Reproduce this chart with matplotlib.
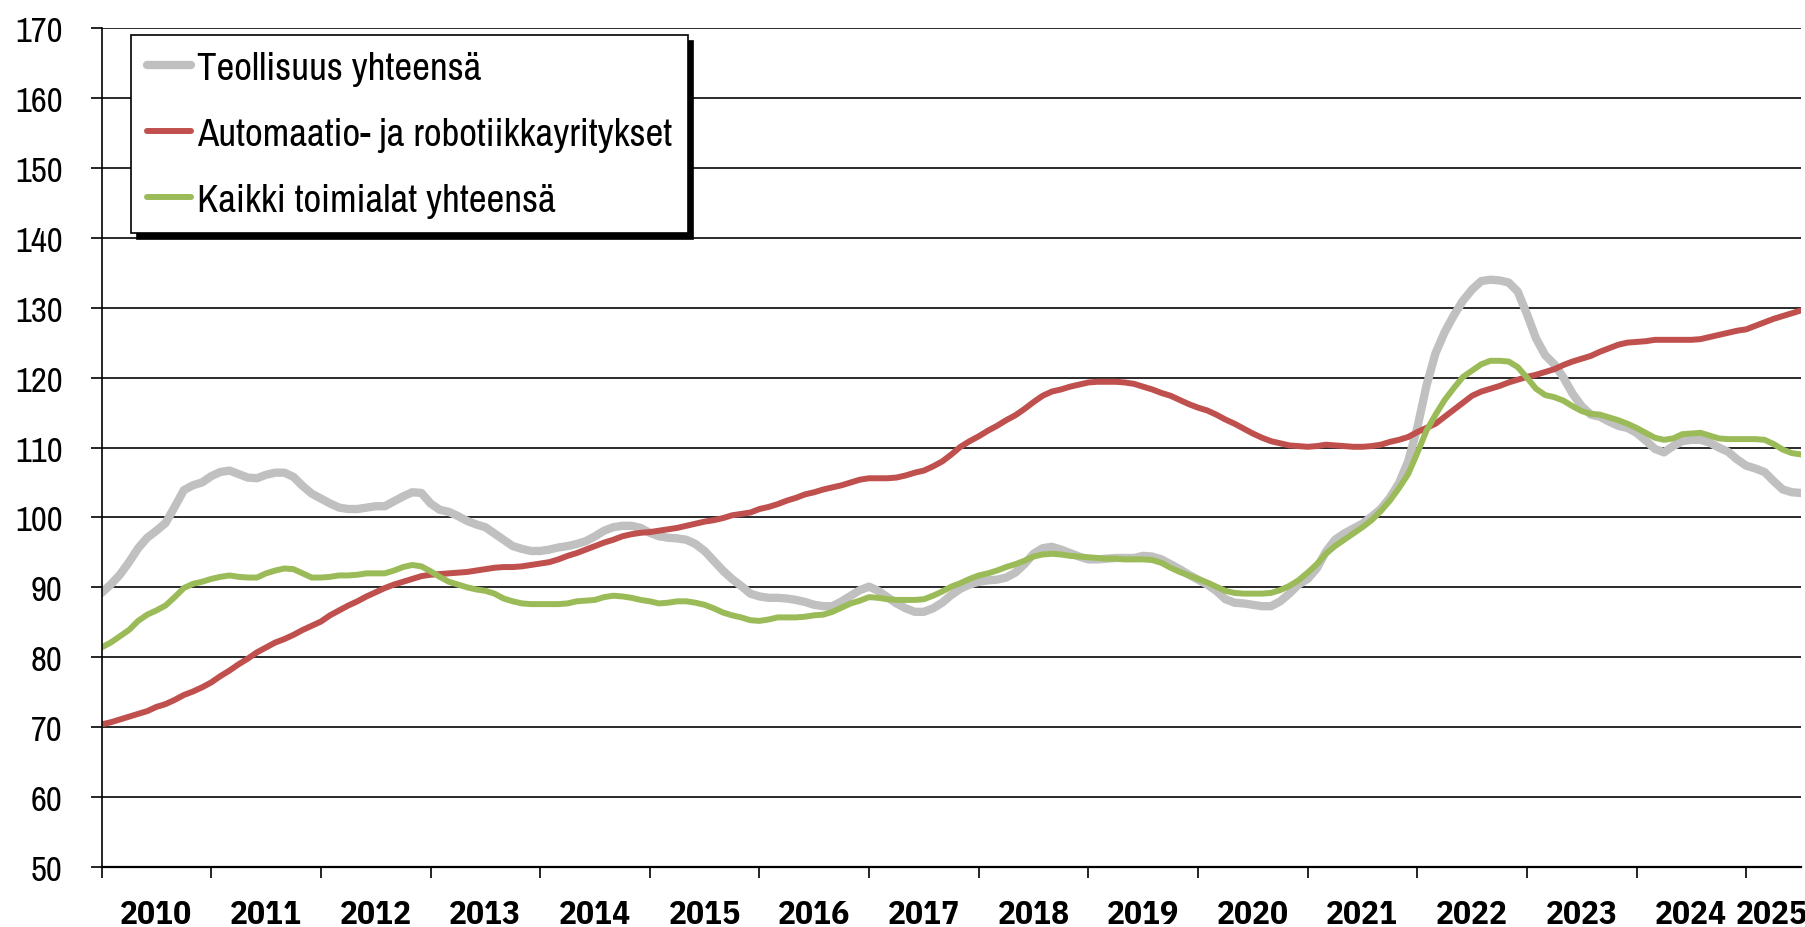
import numpy as np
import matplotlib
matplotlib.use("Agg")
import matplotlib.pyplot as plt
from matplotlib import font_manager

# kuukausittaiset indeksit, tammikuu 2010 - heinäkuu 2025
teollisuus = [
    89.2, 90.4, 91.8, 93.6, 95.6, 97.1, 98.1, 99.2, 101.5, 103.9, 104.6, 105.0,
    105.9, 106.5, 106.7, 106.2, 105.7, 105.6, 106.1, 106.4, 106.4, 105.8, 104.5, 103.4,
    102.7, 102.0, 101.4, 101.2, 101.2, 101.4, 101.6, 101.6, 102.3, 103.0, 103.6, 103.5,
    102.0, 101.1, 100.8, 100.2, 99.5, 99.0, 98.6, 97.7, 96.8, 95.9, 95.5, 95.2,
    95.2, 95.4, 95.7, 95.9, 96.2, 96.6, 97.3, 98.1, 98.6, 98.8, 98.8, 98.5,
    97.8, 97.3, 97.1, 97.0, 96.8, 96.2, 95.2, 93.8, 92.4, 91.2, 90.2, 89.1,
    88.7, 88.5, 88.5, 88.4, 88.2, 87.9, 87.5, 87.3, 87.3, 88.0, 88.8, 89.6,
    90.1, 89.5, 88.6, 87.7, 87.0, 86.5, 86.5, 87.0, 87.8, 88.9, 89.8, 90.4,
    90.8, 91.0, 91.1, 91.4, 92.1, 93.3, 94.8, 95.6, 95.8, 95.4, 94.9, 94.4,
    94.0, 94.0, 94.1, 94.2, 94.2, 94.2, 94.5, 94.4, 94.0, 93.3, 92.6, 91.8,
    91.1, 90.4, 89.5, 88.3, 87.8, 87.7, 87.5, 87.3, 87.3, 88.0, 89.1, 90.4,
    91.2, 92.7, 95.1, 96.8, 97.7, 98.4, 99.1, 100.1, 101.2, 102.8, 104.9, 108.0,
    112.8, 118.8, 123.5, 126.5, 128.9, 131.0, 132.6, 133.8, 134.0, 133.9, 133.6, 132.3,
    129.1, 125.6, 123.2, 121.9, 120.0, 117.7, 115.9, 114.7, 114.4, 113.7, 113.1, 112.8,
    112.1, 111.0, 109.8, 109.3, 110.2, 110.9, 111.1, 111.1, 110.7, 110.0, 109.4, 108.3,
    107.4, 107.0, 106.5, 105.2, 104.0, 103.6, 103.5,
]
automaatio = [
    70.4, 70.7, 71.1, 71.5, 71.9, 72.3, 72.9, 73.3, 73.9, 74.6, 75.1, 75.7,
    76.4, 77.3, 78.1, 79.0, 79.8, 80.7, 81.4, 82.1, 82.6, 83.2, 83.9, 84.5,
    85.1, 86.0, 86.7, 87.4, 88.0, 88.7, 89.3, 89.9, 90.4, 90.8, 91.2, 91.6,
    91.8, 91.9, 92.0, 92.1, 92.2, 92.4, 92.6, 92.8, 92.9, 92.9, 93.0, 93.2,
    93.4, 93.6, 94.0, 94.5, 94.9, 95.4, 95.9, 96.4, 96.8, 97.3, 97.6, 97.8,
    97.9, 98.1, 98.3, 98.5, 98.8, 99.1, 99.4, 99.6, 99.9, 100.3, 100.5, 100.7,
    101.2, 101.5, 101.9, 102.4, 102.8, 103.3, 103.6, 104.0, 104.3, 104.6, 105.0, 105.4,
    105.6, 105.6, 105.6, 105.7, 106.0, 106.4, 106.7, 107.3, 108.0, 109.0, 110.1, 110.9,
    111.6, 112.4, 113.1, 113.9, 114.6, 115.5, 116.5, 117.4, 118.0, 118.3, 118.7, 119.0,
    119.3, 119.4, 119.4, 119.4, 119.3, 119.1, 118.7, 118.3, 117.8, 117.4, 116.8, 116.2,
    115.7, 115.3, 114.7, 114.0, 113.4, 112.7, 112.0, 111.4, 110.9, 110.6, 110.3, 110.2,
    110.1, 110.2, 110.4, 110.3, 110.2, 110.1, 110.1, 110.2, 110.4, 110.8, 111.1, 111.5,
    112.2, 112.8, 113.4, 114.4, 115.4, 116.4, 117.4, 118.0, 118.4, 118.8, 119.3, 119.7,
    120.1, 120.4, 120.8, 121.2, 121.8, 122.3, 122.7, 123.1, 123.7, 124.2, 124.7, 125.0,
    125.1, 125.2, 125.4, 125.4, 125.4, 125.4, 125.4, 125.5, 125.8, 126.1, 126.4, 126.7,
    126.9, 127.4, 127.9, 128.4, 128.8, 129.2, 129.6,
]
kaikki = [
    81.4, 82.1, 83.0, 83.9, 85.2, 86.1, 86.7, 87.4, 88.6, 89.9, 90.5, 90.8,
    91.2, 91.5, 91.7, 91.5, 91.4, 91.4, 92.0, 92.4, 92.7, 92.6, 92.0, 91.4,
    91.4, 91.5, 91.7, 91.7, 91.8, 92.0, 92.0, 92.0, 92.4, 92.9, 93.2, 93.0,
    92.3, 91.5, 90.8, 90.4, 90.0, 89.7, 89.5, 89.1, 88.4, 88.0, 87.7, 87.6,
    87.6, 87.6, 87.6, 87.7, 88.0, 88.1, 88.2, 88.6, 88.8, 88.7, 88.5, 88.2,
    88.0, 87.7, 87.8, 88.0, 88.0, 87.8, 87.5, 87.0, 86.4, 86.0, 85.7, 85.3,
    85.2, 85.4, 85.7, 85.7, 85.7, 85.8, 86.0, 86.1, 86.5, 87.1, 87.7, 88.1,
    88.6, 88.5, 88.3, 88.2, 88.2, 88.2, 88.3, 88.8, 89.4, 90.1, 90.6, 91.2,
    91.7, 92.0, 92.4, 92.9, 93.3, 93.8, 94.4, 94.7, 94.8, 94.7, 94.5, 94.4,
    94.3, 94.2, 94.1, 94.1, 94.0, 94.0, 94.0, 93.9, 93.5, 92.8, 92.2, 91.7,
    91.2, 90.7, 90.1, 89.5, 89.2, 89.1, 89.1, 89.1, 89.2, 89.6, 90.2, 91.0,
    92.1, 93.3, 94.8, 95.9, 96.8, 97.7, 98.6, 99.6, 100.9, 102.4, 104.2, 106.2,
    109.2, 112.4, 114.7, 116.8, 118.5, 120.1, 121.0, 121.9, 122.4, 122.4, 122.3, 121.5,
    120.0, 118.4, 117.5, 117.2, 116.7, 115.9, 115.2, 114.8, 114.7, 114.3, 113.9, 113.4,
    112.8, 112.1, 111.4, 111.1, 111.3, 111.9, 112.0, 112.1, 111.7, 111.3, 111.2, 111.2,
    111.2, 111.2, 111.1, 110.5, 109.7, 109.2, 109.0,
]
vuodet = [str(v) for v in range(2010, 2026)]
sarjat = ["Teollisuus yhteensä", "Automaatio- ja robotiikkayritykset",
          "Kaikki toimialat yhteensä"]

# kapea fontti jos löytyy
names = {f.name for f in font_manager.fontManager.ttflist}
def pick(cands):
    for c in cands:
        if c in names:
            return c
    return "Liberation Sans"
fnt = pick(["Liberation Sans Narrow", "Arial Narrow", "Archivo Narrow", "IBM Plex Sans Condensed"])
fnt_b = pick(["Liberation Sans Narrow", "Arial Narrow", "IBM Plex Sans Condensed"])
plt.rcParams["font.family"] = [fnt, "DejaVu Sans"]

x = np.arange(len(automaatio))

fig = plt.figure(figsize=(18.05, 9.28), dpi=100)
ax = fig.add_axes([101.6 / 1805, 60 / 928, (1801 - 101.6) / 1805, (868 - 29) / 928])

ax.plot(x, teollisuus, color="#c0c0c0", lw=6, label=sarjat[0], solid_capstyle="round")
ax.plot(x, automaatio, color="#c0504d", lw=4.3, label=sarjat[1], solid_capstyle="round")
ax.plot(x, kaikki, color="#9bbb59", lw=4.3, label=sarjat[2], solid_capstyle="round")

ax.set_xlim(0, len(x) - 1)
ax.set_ylim(50, 170)
ax.set_yticks(np.arange(50, 171, 10))
ax.yaxis.grid(True, color="#2a2a2a", lw=1.4)
ax.set_axisbelow(True)

# vuosien rajat tikkeinä, nimet keskelle (2025 vajaa vuosi)
ax.set_xticks(np.arange(0, len(x), 12))
ax.set_xticklabels([])
centers = [12 * i + 6 for i in range(len(vuodet) - 1)] + [182.8]
ax.set_xticks(centers, minor=True)
ax.set_xticklabels(vuodet, minor=True, fontsize=24, fontweight="bold",
                   family=[fnt_b, "DejaVu Sans"])
ax.tick_params(axis="x", which="major", length=8, width=1.2, direction="out")
ax.tick_params(axis="x", which="minor", length=0, pad=22)
ax.tick_params(axis="y", length=8, width=1.2, direction="out", labelsize=25, pad=20)

for s in ["top", "right"]:
    ax.spines[s].set_visible(False)
ax.spines["left"].set_linewidth(1.2)
ax.spines["bottom"].set_linewidth(1.6)

leg = ax.legend(loc="upper left", bbox_to_anchor=(131 / 1805, 1 - 36 / 928),
                bbox_transform=fig.transFigure, borderaxespad=0, fontsize=28,
                frameon=True, fancybox=False, edgecolor="black",
                shadow={"color": "black", "alpha": 1, "ox": 4, "oy": -4},
                handlelength=1.15, handletextpad=0.15, labelspacing=0.8,
                borderpad=0.4)
leg.get_frame().set_linewidth(1.2)

fig.savefig("out.png", dpi=100)
